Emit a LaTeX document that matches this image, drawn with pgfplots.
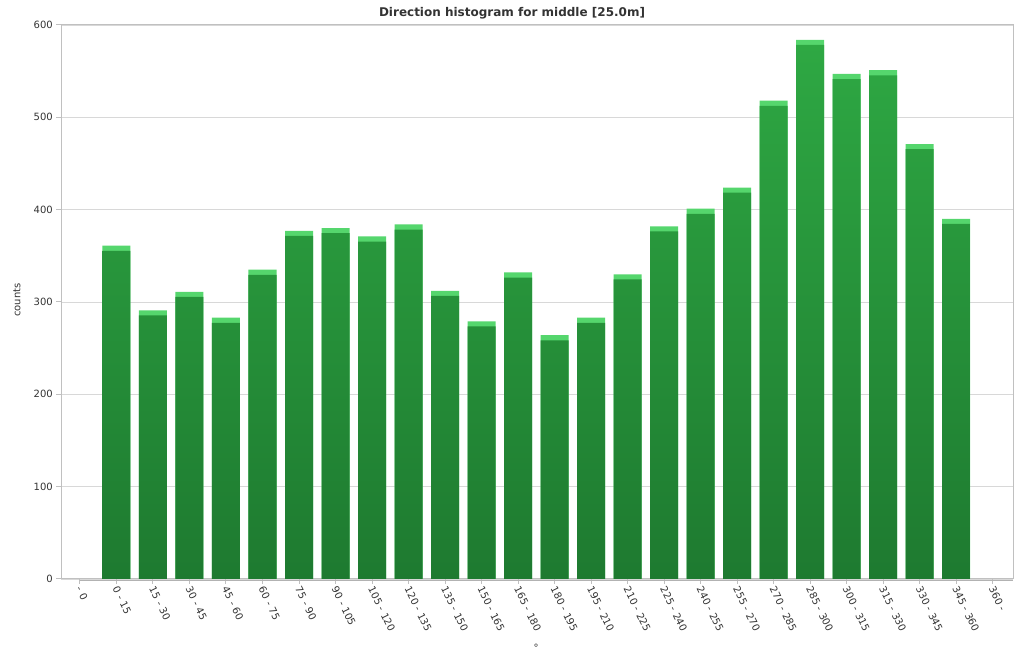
\documentclass[border=0pt]{standalone}
\usepackage{fontspec}
\setmainfont{DejaVu Sans}
\usepackage{pgfplots}
\usepackage{pgfplotstable}
\pgfplotsset{compat=1.18}
\definecolor{barbot}{HTML}{1E7A30}
\definecolor{bartop}{HTML}{2EA843}
\definecolor{barcap}{HTML}{55D66D}
\definecolor{axgray}{HTML}{C0C0C0}
\definecolor{gridgray}{HTML}{D8D8D8}
\definecolor{txt}{HTML}{333333}

\pgfplotstableread{
x counts
1 361
2 291
3 311
4 283
5 335
6 377
7 380
8 371
9 384
10 312
11 279
12 332
13 264
14 283
15 330
16 382
17 401
18 424
19 518
20 584
21 547
22 551
23 471
24 390
}\data

\begin{document}
\begin{tikzpicture}
\useasboundingbox (0,0) rectangle (1024bp,670bp);
\begin{axis}[
  at={(61bp,91bp)}, anchor=south west,
  scale only axis, width=952bp, height=554bp,
  xmin=-0.52, xmax=25.56, ymin=0, ymax=600,
  xtick={0,...,25},
  xticklabels={{- 0},{0 - 15},{15 - 30},{30 - 45},{45 - 60},{60 - 75},{75 - 90},{90 - 105},{105 - 120},{120 - 135},{135 - 150},{150 - 165},{165 - 180},{180 - 195},{195 - 210},{210 - 225},{225 - 240},{240 - 255},{255 - 270},{270 - 285},{285 - 300},{300 - 315},{315 - 330},{330 - 345},{345 - 360},{360 -}},
  ytick={0,100,...,600},
  ymajorgrids, grid style={gridgray, line width=0.8bp},
  axis line style={axgray, line width=1bp},
  tick align=outside, major tick length=5bp,
  tick style={axgray, line width=1bp},
  xtick pos=bottom, ytick pos=left,
  /pgf/number format/assume math mode=true,
  yticklabel style={font=\fontsize{10bp}{12bp}\selectfont, text=txt, inner sep=3bp},
  xticklabel shift=5bp,
  xticklabel style={font=\fontsize{10bp}{12bp}\selectfont, text=txt, rotate=-64, anchor=west, inner sep=1bp, xshift=-3bp},
  clip=false,
]
\addplot[ybar, bar shift=0pt, bar width=28bp, fill=barcap, draw=none] table[x=x, y=counts]{\data};
\addplot[ybar, bar shift=0pt, bar width=28bp, draw=none, top color=bartop, bottom color=barbot] table[x=x, y expr=\thisrow{counts}-5.5]{\data};
\draw[gray!60, line width=1.5bp] (rel axis cs:0,0) ++(0,-1.5bp) -- ([yshift=-1.5bp]rel axis cs:1,0);
\end{axis}
\node[font=\bfseries\fontsize{12bp}{14bp}\selectfont, text=txt] at (512bp,657bp) {Direction histogram for middle [25.0m]};
\node[font=\fontsize{10bp}{12bp}\selectfont, text=txt, rotate=90] at (17bp,370bp) {counts};
\node[font=\fontsize{10bp}{12bp}\selectfont, text=txt] at (536bp,22bp) {°};
\end{tikzpicture}
\end{document}
